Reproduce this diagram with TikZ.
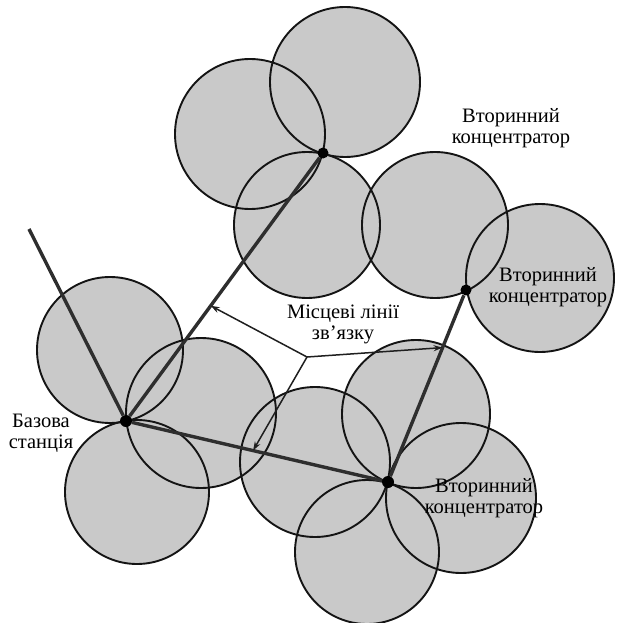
\documentclass[tikz,border=0pt]{standalone}
\usepackage{fontspec}
\setmainfont{Liberation Serif}
\usetikzlibrary{arrows.meta,calc}
\definecolor{cellgray}{gray}{0.79}
\begin{document}
\begin{tikzpicture}[x=1pt,y=-1pt,
  cell/.style={fill=cellgray},
  rim/.style={draw=black!92, line width=1.9pt},
  link/.style={draw=black!82, line width=3.4pt},
  ptr/.style={draw=black!88, line width=1.5pt, -{Stealth[length=9pt,width=6pt]}},
  hub/.style={circle, fill=black, inner sep=0pt, minimum size=12pt},
  lbl/.style={font=\fontsize{20.5}{21}\selectfont, align=center, inner sep=0pt}]
\useasboundingbox (0,0) rectangle (617,623);

% coverage cells: fills first, then outlines on top
\def\cells{345/82/75, 250/134/75, 307/225/73, 435/225/73, 540/278/74,
  110/350/73, 201/413/75, 137/492/72, 416/414/74, 461/498/75,
  367/552/72, 315/462/75}
\foreach \cx/\cy/\r in \cells { \fill[cell] (\cx,\cy) circle[radius=\r]; }
\foreach \cx/\cy/\r in \cells { \draw[rim] (\cx,\cy) circle[radius=\r]; }

% base station and secondary hubs
\node[hub] (bs) at (126,421) {};
\node[hub, minimum size=11pt] (h1) at (323,153) {};
\node[hub, minimum size=11pt] (h2) at (466,290) {};
\node[hub] (h3) at (388,482) {};
\coordinate (trunk) at (29,229);

% trunk and local links
\draw[link] (bs) -- (trunk);
\draw[link] (bs) -- (h1);
\draw[link] (bs) -- (h3);
\draw[link] (h2) -- (h3);

% labels
\node[lbl] (t1) at (511,128) {Вторинний\\концентратор};
\node[lbl] (t2) at (548,287) {Вторинний\\концентратор};
\node[lbl] (t3) at (484,498) {Вторинний\\концентратор};
\node[lbl] (tb) at (41,433) {Базова\\станція};
\node[lbl] (tl) at (343,324) {Місцеві лінії\\зв’язку};

% pointers from the local-link label
\coordinate (fork) at (307,357);
\coordinate (p1) at ($(bs)!0.43!(h1)$);
\coordinate (p2) at ($(bs)!0.485!(h3)$);
\coordinate (p3) at ($(h2)!0.30!(h3)$);
\draw[ptr] (fork) -- (p1);
\draw[ptr] (fork) -- (p2);
\draw[ptr] (fork) -- (p3);
\end{tikzpicture}
\end{document}
